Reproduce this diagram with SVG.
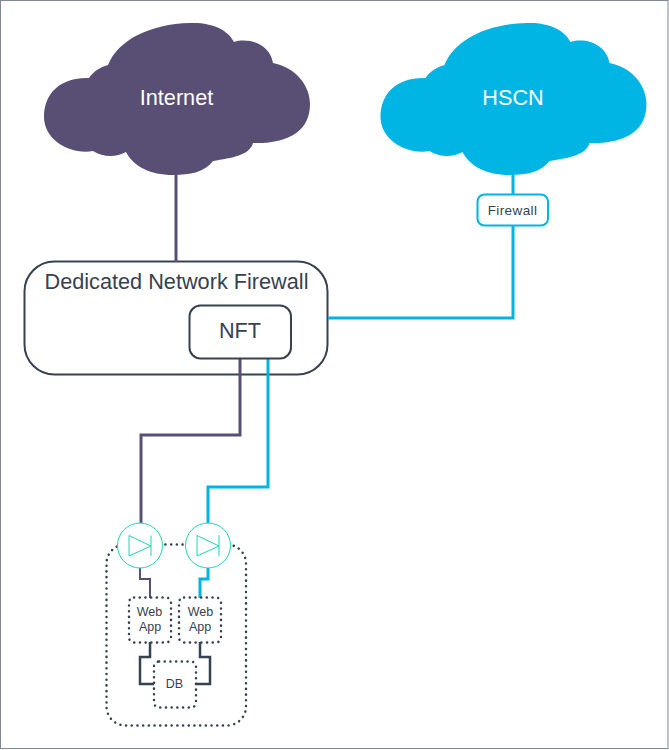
<svg xmlns="http://www.w3.org/2000/svg" width="669" height="750" viewBox="0 0 669 750">
<style>
text{font-family:"Liberation Sans",Arial,sans-serif;text-anchor:middle;fill:#36424f}
.cl{fill:#fff;font-size:21.7px}
.big{font-size:21.7px}
.sm{font-size:12.5px}
.box{fill:#fff;stroke:#36424f;stroke-width:2}
.dot{fill:none;stroke:#36424f;stroke-width:2.5;stroke-dasharray:0.1 5.6;stroke-linecap:round}
.purple{fill:none;stroke:#594f75;stroke-width:3}
.blue{fill:none;stroke:#00b4e4;stroke-width:3}
.dark{fill:none;stroke:#36424f;stroke-width:2.500}
.lb{fill:#fff;stroke:#1fd3b8;stroke-width:1}
.tri{fill:none;stroke:#1fd3b8;stroke-width:1}
</style>
<defs>
<path id="cloud" d="M108 65C118 40 150 24 190 23C212 22 228 30 234 42C250 37 270 45 273 63C295 67 310 85 310 104C310 130 290 144 253 143C250 155 232 158 213 161C205 172 190 175 173 175C150 175 133 166 126 152C115 158 103 157 93 151C70 155 44 140 44 117C44 92 62 77 89 78C93 72 100 67 108 65Z"/>
</defs>
<rect x="0.5" y="0.5" width="667.5" height="748" fill="#fff" stroke="#7f8890"/>
<g id="dnf"><rect class="box" x="24.500" y="261.500" width="303" height="113" rx="30"/><text class="big" x="176.500" y="289">Dedicated Network Firewall</text></g>
<g id="connectors">
<path class="purple" d="M176 172V262"/>
<path class="blue" d="M513 172V195M513 226V318H328"/>
<path class="purple" d="M240 358V435H141V526"/>
<path class="blue" d="M268 358V487H208V526"/>
<path class="purple" d="M140 568V579H150V598" style="stroke-width:2"/>
<path class="blue" d="M208 568V579H200V598"/>
<path class="dark" d="M150 642V657H140V684H155"/>
<path class="dark" d="M200 642V657H210V684H195"/>
</g>
<g id="internet"><use href="#cloud" fill="#594f75"/><text class="cl" x="176.500" y="105">Internet</text></g>
<g id="hscn"><use href="#cloud" x="336.500" fill="#00b4e4"/><text class="cl" x="513" y="105">HSCN</text></g>
<g id="firewall"><rect x="477.500" y="194.500" width="70.500" height="31" rx="7" fill="#fff" stroke="#00b4e4" stroke-width="2"/><text x="512.500" y="215" font-size="13.500" letter-spacing="0.4">Firewall</text></g>
<g id="nft"><rect class="box" x="189.500" y="305.500" width="101.500" height="53" rx="11"/><text class="big" x="240" y="338">NFT</text></g>
<g id="group"><rect class="dot" x="106.500" y="544.500" width="139.500" height="181" rx="19"/></g>
<g id="lb1"><circle class="lb" cx="140" cy="545.500" r="22.500"/><path class="tri" d="M129 535.500V556L151 546ZM151 535.500V556"/></g>
<g id="lb2"><circle class="lb" cx="208" cy="545.500" r="22.500"/><path class="tri" d="M197 535.500V556L219 546ZM219 535.500V556"/></g>
<g id="web1"><rect class="dot" x="129" y="597.500" width="42" height="45" rx="5"/><text class="sm" x="149.500" y="616">Web</text><text class="sm" x="150" y="631">App</text></g>
<g id="web2"><rect class="dot" x="179" y="597.500" width="42" height="45" rx="5"/><text class="sm" x="200.500" y="616">Web</text><text class="sm" x="200" y="631">App</text></g>
<g id="db"><rect x="154" y="661.500" width="42" height="46" rx="5" fill="#fff"/><rect class="dot" x="154" y="661.500" width="42" height="46" rx="5"/><text class="sm" x="174.500" y="688">DB</text></g>
</svg>
